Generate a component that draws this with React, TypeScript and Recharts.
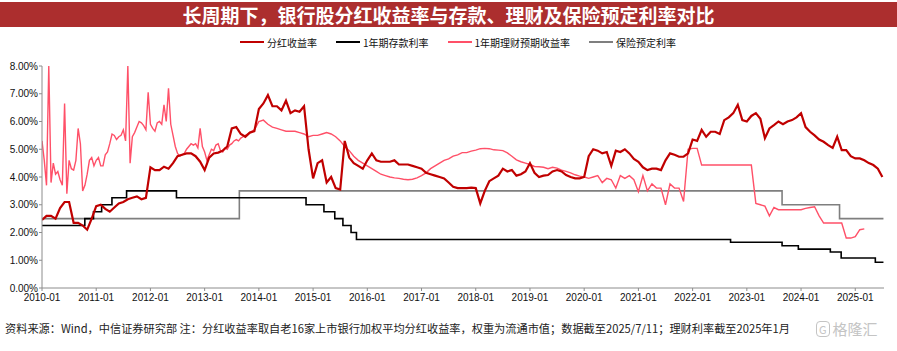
import { LineChart, Line, XAxis, YAxis } from 'recharts'

const YEARS = [2010, 2011, 2012, 2013, 2014, 2015, 2016, 2017, 2018, 2019, 2020, 2021, 2022, 2023, 2024, 2025]
const Y_TICKS = [0, 1, 2, 3, 4, 5, 6, 7, 8]

// 分红收益率，月度 2010-01 ~ 2025-07
const divYield = [
  2.45, 2.6, 2.6, 2.5, 2.88, 3.1, 3.1, 2.35, 2.35, 2.25, 2.1, 2.5,
  2.95, 3.0, 2.85, 2.75, 2.9, 3.05, 3.1, 3.2, 3.25, 3.3, 3.2, 3.25,
  4.35, 4.25, 4.25, 4.37, 4.3, 4.5, 4.75, 4.8, 4.85, 4.85, 4.75, 4.55,
  4.25, 4.7, 4.85, 4.88, 4.95, 5.1, 5.75, 5.8, 5.55, 5.45, 5.6, 5.65,
  6.45, 6.65, 6.95, 6.55, 6.55, 6.4, 6.75, 6.3, 6.4, 6.35, 6.55, 5.0,
  3.95, 4.5, 4.6, 3.8, 4.0, 3.6, 3.55, 5.3, 4.7, 4.5, 4.4, 4.3,
  4.6, 4.85, 4.6, 4.55, 4.55, 4.55, 4.6, 4.45, 4.45, 4.45, 4.4, 4.35,
  4.3, 4.15, 4.1, 4.05, 4.0, 3.95, 3.8, 3.65, 3.6, 3.6, 3.6, 3.62,
  3.6, 3.05, 3.5, 3.85, 3.95, 4.05, 4.3, 4.2, 4.25, 4.05, 4.1, 4.2,
  4.5, 4.15, 4.0, 4.05, 4.07, 4.2, 4.25, 4.2, 4.07, 4.0, 3.95, 3.95,
  4.0, 4.75, 5.0, 4.95, 4.85, 4.9, 4.4, 4.95, 4.9, 5.0, 4.85, 4.65,
  4.55, 4.35, 4.25, 4.3, 4.3, 4.25, 4.6, 4.85, 4.8, 4.73, 4.73, 4.85,
  5.35, 5.3, 5.7, 5.45, 5.63, 5.63, 5.55, 6.05, 6.15, 6.3, 6.6, 6.05,
  6.0, 6.2, 6.3, 6.1, 5.4, 5.75, 5.87, 6.0, 5.9, 6.0, 6.05, 6.15,
  6.3, 5.8, 5.63, 5.5, 5.35, 5.27, 5.15, 5.05, 5.45, 4.97, 4.97, 4.75,
  4.67, 4.67, 4.6, 4.5, 4.43, 4.3, 4.0,
]

// 1年期理财预期收益率，半月度 2010-01 ~ 2013-12
const wmpSemiMonthly = [
  5.3, 4.6, 3.7, 8.0, 3.8, 4.5, 4.1, 4.2, 3.9, 3.7, 6.65, 3.4, 4.6, 4.3, 4.25, 4.6, 5.75, 5.2, 3.5, 3.7, 4.1, 4.6, 4.7, 4.4,
  4.6, 4.7, 4.4, 4.4, 4.8, 4.9, 5.2, 5.55, 5.5, 5.35, 5.45, 5.5, 5.7, 5.3, 8.0, 4.5, 5.45, 5.6, 5.8, 6.0, 5.95, 5.85, 5.7, 7.05,
  5.9, 5.75, 5.65, 5.95, 6.0, 5.9, 6.6, 6.0, 7.2, 5.9, 5.5, 5.1, 4.85, 4.75, 4.8, 4.85, 5.0, 5.1, 5.2, 5.15, 5.2, 5.05, 5.75, 5.1,
  4.9, 4.6, 4.8, 5.0, 4.95, 5.15, 5.2, 4.95, 4.9, 5.05, 5.0, 5.15, 5.2, 5.3, 5.35, 5.3, 5.4, 5.45, 5.5, 5.55, 5.6, 5.65, 5.7, 5.85,
]

// 1年期理财预期收益率，月度 2014-01 ~ 2025-03
const wmpMonthly = [
  6.0, 6.05, 5.9, 5.8, 5.75, 5.7, 5.65, 5.65, 5.65, 5.6, 5.55, 5.45,
  5.5, 5.5, 5.55, 5.6, 5.55, 5.45, 5.3, 5.1, 4.95, 4.75, 4.6, 4.5,
  4.4, 4.3, 4.2, 4.1, 4.05, 4.0, 3.97, 3.95, 3.92, 3.9, 3.92, 3.97,
  4.05, 4.15, 4.3, 4.4, 4.5, 4.6, 4.65, 4.75, 4.8, 4.88, 4.88, 4.93,
  4.97, 5.02, 5.03, 5.02, 4.98, 4.97, 4.95, 4.87, 4.75, 4.62, 4.55, 4.5,
  4.45, 4.38, 4.37, 4.35, 4.3, 4.35, 4.32, 4.25, 4.2, 4.15, 4.08, 4.03,
  4.0, 3.95, 4.0, 4.05, 3.8, 3.95, 3.9, 3.6, 4.05, 3.95, 4.05, 3.9,
  3.47, 4.05, 3.5, 3.75, 3.6, 3.6, 3.0, 3.75, 3.6, 3.6, 3.12, 5.0,
  5.03, 5.03, 4.43, 4.43, 4.43, 4.43, 4.43, 4.43, 4.43, 4.43, 4.43, 4.43,
  4.43, 4.43, 3.05, 3.0, 2.95, 2.6, 2.9, 2.82, 2.82, 2.82, 2.82, 2.82,
  2.82, 2.87, 2.9, 2.93, 2.6, 2.34, 2.34, 2.34, 2.34, 2.34, 1.8, 1.8,
  1.85, 2.1, 2.13,
]

// 1年期存款利率（调整时点）
const depositDates = [2010.0, 2010.79, 2010.95, 2011.1, 2011.29, 2011.56, 2012.48, 2014.87, 2015.2, 2015.4, 2015.55, 2015.7, 2015.8, 2022.7, 2023.65, 2023.95, 2024.54, 2024.74, 2025.37, 2025.52]
const depositRates = [2.25, 2.5, 2.75, 3.0, 3.25, 3.5, 3.25, 3.0, 2.75, 2.5, 2.25, 2.0, 1.75, 1.65, 1.52, 1.4, 1.3, 1.08, 0.93, 0.93]

// 保险预定利率（调整时点）
const insuranceDates = [2010.0, 2013.64, 2023.65, 2024.71, 2025.52]
const insuranceRates = [2.5, 3.5, 3.0, 2.5, 2.5]

const divData = divYield.map((v, i) => ({ x: 2010 + i / 12, v }))
const wmpData = [
  ...wmpSemiMonthly.map((v, i) => ({ x: 2010 + i / 24, v })),
  ...wmpMonthly.map((v, i) => ({ x: 2014 + i / 12, v })),
]
const depData = depositDates.map((x, i) => ({ x, v: depositRates[i] }))
const insData = insuranceDates.map((x, i) => ({ x, v: insuranceRates[i] }))

const C_DIV = '#c00000'
const C_DEP = '#000000'
const C_WMP = '#ff5068'
const C_INS = '#7f7f7f'

const LEGEND = [
  { name: '分红收益率', color: C_DIV },
  { name: '1年期存款利率', color: C_DEP },
  { name: '1年期理财预期收益率', color: C_WMP },
  { name: '保险预定利率', color: C_INS },
]

const CJK = '"Noto Sans CJK SC", "Liberation Sans", sans-serif'
const NUM = '"Liberation Sans", Arial, sans-serif'

export default function App() {
  return (
    <div style={{ position: 'absolute', left: 0, top: 0, width: 897, height: 351, background: '#fff', overflow: 'hidden' }}>
      <div style={{
        position: 'absolute', left: 0, top: 2, width: 897, height: 25, background: '#ac2e2e',
        color: '#fff', fontFamily: CJK, fontWeight: 700, fontSize: 19, lineHeight: '25px', textAlign: 'center',
      }}>
        长周期下，银行股分红收益率与存款、理财及保险预定利率对比
      </div>

      <div style={{
        position: 'absolute', left: 0, top: 34, width: 916, height: 16, display: 'flex',
        justifyContent: 'center', alignItems: 'center', gap: 19, fontFamily: CJK, fontSize: 10, color: '#111',
      }}>
        {LEGEND.map(l => (
          <div key={l.name} style={{ display: 'flex', alignItems: 'center' }}>
            <span style={{ display: 'inline-block', width: 24, height: 2.5, background: l.color, marginRight: 3 }} />
            <span>{l.name}</span>
          </div>
        ))}
      </div>

      <LineChart width={897} height={351} margin={{ top: 66, right: 13, bottom: 33, left: 0 }}>
        <XAxis dataKey="x" type="number" domain={[2010, 2025.53]} ticks={YEARS} interval={0}
          allowDataOverflow
          tickFormatter={v => `${v}-01`}
          tick={{ fill: '#111', fontSize: 10, fontFamily: NUM }}
          axisLine={{ stroke: '#8c8c8c' }} tickLine={{ stroke: '#8c8c8c' }} tickSize={3} tickMargin={3} />
        <YAxis type="number" domain={[0, 8]} ticks={Y_TICKS} width={42} interval={0}
          tickFormatter={v => `${v.toFixed(2)}%`}
          tick={{ fill: '#111', fontSize: 10, fontFamily: NUM }}
          axisLine={{ stroke: '#8c8c8c' }} tickLine={{ stroke: '#8c8c8c' }} tickSize={3} tickMargin={1} />
        <Line data={insData} dataKey="v" type="stepAfter" stroke={C_INS} strokeWidth={1.6} dot={false} isAnimationActive={false} />
        <Line data={depData} dataKey="v" type="stepAfter" stroke={C_DEP} strokeWidth={1.6} dot={false} isAnimationActive={false} />
        <Line data={wmpData} dataKey="v" type="linear" stroke={C_WMP} strokeWidth={1.4} dot={false} isAnimationActive={false} />
        <Line data={divData} dataKey="v" type="linear" stroke={C_DIV} strokeWidth={2.2} dot={false} isAnimationActive={false} />
      </LineChart>

      <div style={{ position: 'absolute', left: 5, top: 320, fontFamily: CJK, fontSize: 11.2, color: '#222', whiteSpace: 'nowrap' }}>
        资料来源：Wind，中信证券研究部 注：分红收益率取自老16家上市银行加权平均分红收益率，权重为流通市值；数据截至2025/7/11；理财利率截至2025年1月
      </div>
      <div style={{
        position: 'absolute', left: 816, top: 318, display: 'flex', alignItems: 'center', gap: 3,
        fontFamily: CJK, fontSize: 15, color: '#c4c4c4',
      }}>
        <span style={{ border: '1.5px solid #c4c4c4', borderRadius: 4, fontSize: 11, lineHeight: '14px', padding: '0 2px' }}>G</span>
        <span>格隆汇</span>
      </div>
    </div>
  )
}
